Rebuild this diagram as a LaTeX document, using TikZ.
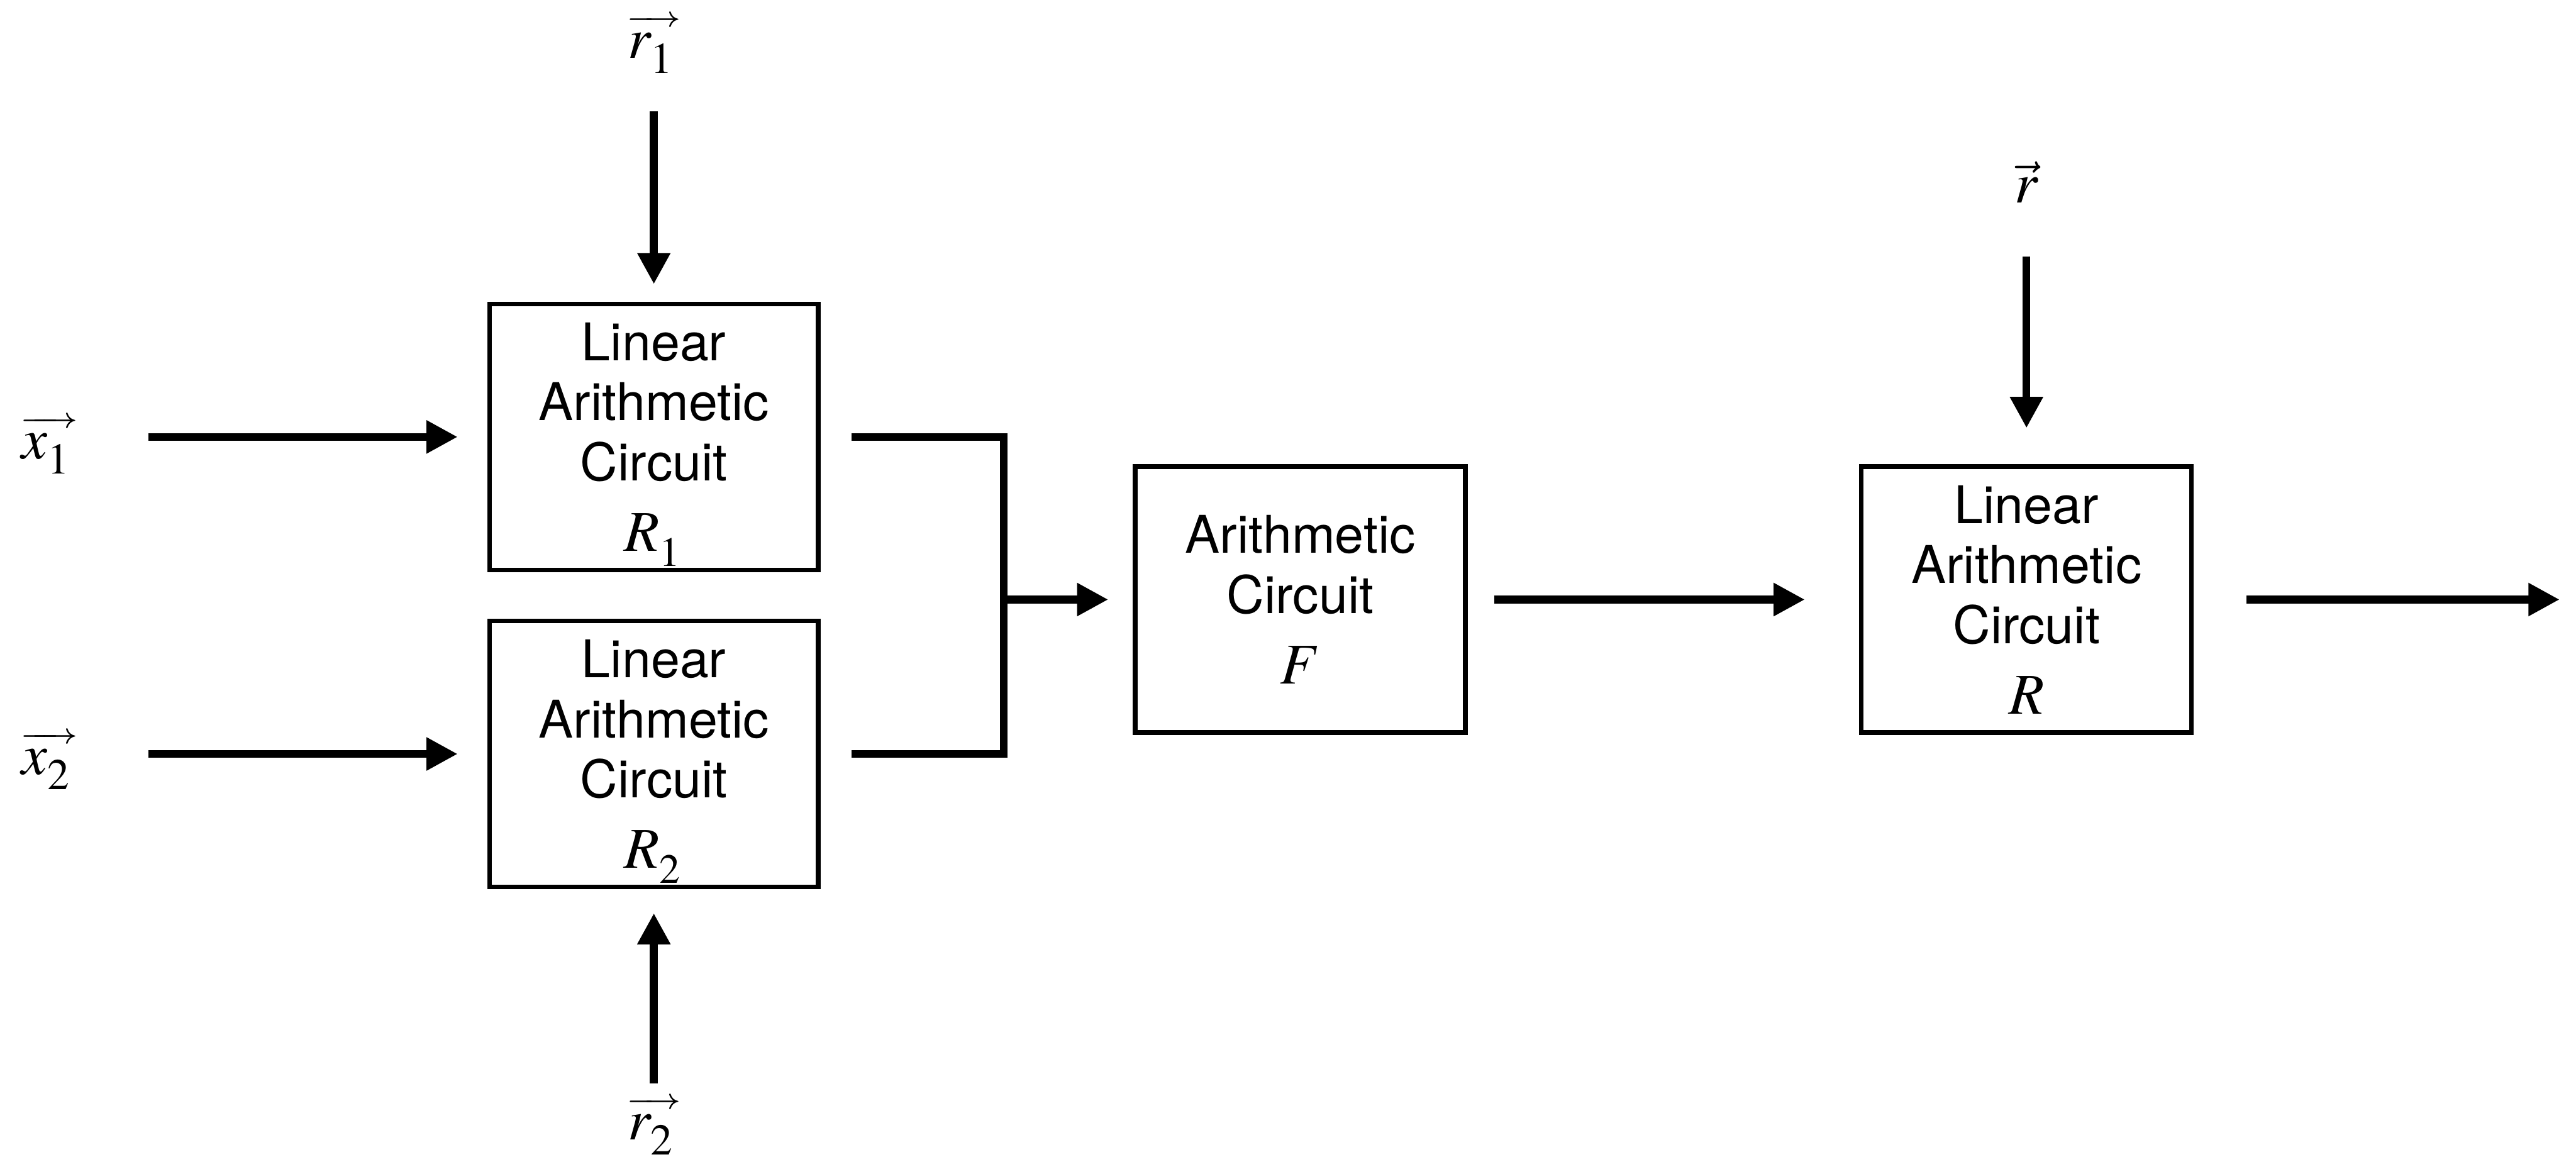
\documentclass[tikz,border=0pt]{standalone}
\usepackage{mathptmx}
% Computer Modern arrows for the vector bars
\DeclareSymbolFont{symbols}{OMS}{cmsy}{m}{n}
\usepackage[no-math]{fontspec}
\setmainfont{TeX Gyre Heros}
\usetikzlibrary{arrows.meta,positioning}
% math sizes: boxes (9pt text) and labels (10pt text)
\DeclareMathSizes{9}{10}{7.2}{6}
\DeclareMathSizes{10}{10}{7.6}{6}
% deeper subscripts
\font\labsy=cmsy10 at 10pt
\fontdimen16\labsy=2.6pt

% long vector arrow with a small head
\makeatletter
\newcommand{\vect}[1]{\vbox{\m@th\ialign{##\crcr
  \fontsize{5}{6}\selectfont
  $\m@th\smash-\mkern-7mu\cleaders\hbox{$\mkern-2mu\smash-\mkern-2mu$}\hfill\mkern-7mu\mathord\rightarrow$\crcr
  \noalign{\kern1.05pt\nointerlineskip}
  $\m@th\hfil\kern.4pt\displaystyle{#1}\kern1.2pt\hfil$\crcr}}}
\makeatother

\tikzset{
  circuit/.style={draw, line width=0.8pt, minimum width=2cm, minimum height=1.62cm,
                  inner sep=0pt, align=center, font=\fontsize{9}{10.4}\selectfont},
  vlabel/.style={inner sep=0pt, anchor=base, font=\fontsize{10}{12}\selectfont},
  flow/.style={-{Triangle[length=1.9mm,width=1.9mm]}, line width=1.35pt},
  bus/.style={line width=1.35pt},
}

\begin{document}
\begin{tikzpicture}
\useasboundingbox (0,0) rectangle (15.68,7.04);

% circuit blocks
\node[circuit] (R1) at (3.98,4.38) {Linear\\Arithmetic\\Circuit\\[1.8pt]\smash{$R_1$}};
\node[circuit] (R2) at (3.98,2.45) {Linear\\Arithmetic\\Circuit\\[1.8pt]\smash{$R_2$}};
\node[circuit, minimum width=2.01cm] (F) at (7.915,3.39) {Arithmetic\\Circuit\\[1.8pt]$F$};
\node[circuit, minimum width=2.01cm] (R) at (12.335,3.39) {Linear\\Arithmetic\\Circuit\\[1.8pt]$R$};

% inputs and randomness
\node[vlabel] (x1) at (0.30,4.246) {$\vect{x_1}$};
\node[vlabel] (x2) at (0.30,2.325) {$\vect{x_2}$};
\node[vlabel] (r1) at (3.98,6.687) {$\vect{r_1}$};
\node[vlabel] (r2) at (3.98,0.1) {$\vect{r_2}$};
\node[vlabel] (r) at (12.335,5.805) {$\vec{r}$};

\coordinate (join) at (6.11,3.39);
\coordinate (out) at (15.58,3.39);

\foreach \a/\b in {x1/R1, x2/R2}{
  \draw[flow, shorten <=4.14mm, shorten >=1.8mm] (\a.east |- \b) -- (\b);
}
\draw[flow, shorten >=1.06mm] ([yshift=-3.26mm]r1.base) -- (R1);
\draw[flow, shorten >=1.45mm] ([yshift=3.44mm]r2.base) -- (R2);
\draw[flow, shorten >=2.2mm] ([yshift=-3.25mm]r.base) -- (R);

% outputs of R1 and R2 merge into F
\draw[bus] ([xshift=1.9mm]R1.east) -| (join) |- ([xshift=1.9mm]R2.east);
\draw[flow, shorten >=1.5mm] (join) -- (F);
\draw[flow, shorten <=1.6mm, shorten >=3.3mm] (F) -- (R);
\draw[flow, shorten <=3.2mm] (R) -- (out);
\end{tikzpicture}
\end{document}
